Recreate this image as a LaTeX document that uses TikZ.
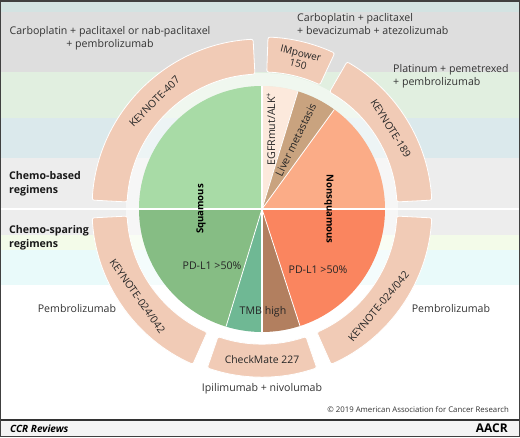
\documentclass[tikz,border=0pt]{standalone}
\usepackage{fontspec}
\setsansfont{Open Sans}
\definecolor{bandc}{HTML}{F1CBB6}
\definecolor{sqtop}{HTML}{A8DBA6}
\definecolor{sqlow}{HTML}{86BD84}
\definecolor{tmbg}{HTML}{6FB894}
\definecolor{tmbb}{HTML}{B27F5F}
\definecolor{egfr}{HTML}{FCE9DC}
\definecolor{liver}{HTML}{C9A37F}
\definecolor{nsqtop}{HTML}{FBAC87}
\definecolor{nsqlow}{HTML}{FA855F}
\definecolor{stripa}{HTML}{D3E3E2}
\definecolor{stripb}{HTML}{DEDEDE}
\definecolor{stripc}{HTML}{E1EFE0}
\definecolor{stripd}{HTML}{DBE9EC}
\definecolor{stripe}{HTML}{EDEDED}
\definecolor{stripf}{HTML}{F3FBE9}
\definecolor{stripg}{HTML}{E9FAFA}
\definecolor{footc}{HTML}{F4F4F4}
\begin{document}
\begin{tikzpicture}[x=1pt, y=1pt, font=\sffamily\fontsize{10.6}{13.5}\selectfont,
          band/.style={fill=bandc, draw=white, line width=0.8pt, rounded corners=2pt},
          bandlbl/.style={font=\sffamily\fontsize{10.4}{12}\selectfont, align=center, inner sep=0pt, text=black!85},
          txt/.style={align=center, inner sep=0pt, text=black!80},
          rowlbl/.style={font=\sffamily\bfseries\fontsize{10.6}{14}\selectfont, align=left, anchor=west, inner sep=0pt, text=black!90},
          slicelbl/.style={inner sep=0pt, text=black!85},
          boldlbl/.style={font=\sffamily\bfseries\fontsize{9.6}{11}\selectfont, inner sep=0pt}]
  \useasboundingbox (-262,-228) rectangle (258,209);
  % background stripes
  \fill[white] (-262,-228) rectangle (258,209);
  \fill[stripa] (-262,197) rectangle (258,209);
  \fill[stripb] (-262,137) rectangle (258,197);
  \fill[stripc] (-262,91) rectangle (258,137);
  \fill[stripd] (-262,51) rectangle (258,91);
  \fill[stripe] (-262,1) rectangle (258,51);
  \fill[stripe] (-262,-26) rectangle (258,-1);
  \fill[stripf] (-262,-41) rectangle (258,-26);
  \fill[stripg] (-262,-76) rectangle (258,-41);
  \draw[white, line width=1.2pt] (-262,0) -- (258,0);
  % pale ring round the pie
  \fill[white, opacity=0.5, even odd rule] (0,0) circle[radius=136] (0,0) circle[radius=123];
  % outer bands
  \path[band] (93:135) arc[start angle=93, end angle=177, radius=135] -- (177:170) arc[start angle=177, end angle=93, radius=170] -- cycle;
  \path[band] (65:137) arc[start angle=65, end angle=88, radius=137] -- (88:172) arc[start angle=88, end angle=65, radius=172] -- cycle;
  \path[band] (3:135) arc[start angle=3, end angle=60, radius=135] -- (60:170) arc[start angle=60, end angle=3, radius=170] -- cycle;
  \path[band] (183:135) arc[start angle=183, end angle=246, radius=135] -- (246:170) arc[start angle=246, end angle=183, radius=170] -- cycle;
  \path[band] (251:135) arc[start angle=251, end angle=289, radius=135] -- (289:168) arc[start angle=289, end angle=251, radius=168] -- cycle;
  \path[band] (294:135) arc[start angle=294, end angle=357, radius=135] -- (357:170) arc[start angle=357, end angle=294, radius=170] -- cycle;
  % pie
  \fill[sqtop] (0,0) -- (90:123) arc[start angle=90, end angle=180, radius=123] -- cycle;
  \fill[egfr] (0,0) -- (73:123) arc[start angle=73, end angle=90, radius=123] -- cycle;
  \fill[liver] (0,0) -- (54:123) arc[start angle=54, end angle=73, radius=123] -- cycle;
  \fill[nsqtop] (0,0) -- (0:123) arc[start angle=0, end angle=54, radius=123] -- cycle;
  \fill[sqlow] (0,0) -- (180:123) arc[start angle=180, end angle=253, radius=123] -- cycle;
  \fill[tmbg] (0,0) -- (253:123) arc[start angle=253, end angle=270, radius=123] -- cycle;
  \fill[tmbb] (0,0) -- (270:123) arc[start angle=270, end angle=288, radius=123] -- cycle;
  \fill[nsqlow] (0,0) -- (288:123) arc[start angle=288, end angle=360, radius=123] -- cycle;
  \draw[white, line width=0.8pt] (0,0) -- (73:123) (0,0) -- (54:123) (0,0) -- (253:123) (0,0) -- (288:123);
  \draw[white, line width=1.2pt] (-123,0) -- (123,0) (0,-123) -- (0,123);
  % pie labels
  \node[boldlbl, rotate=90] (sq) at (-61,0) {Squamous};
  \node[boldlbl, rotate=-90] (nsq) at (67,0) {Nonsquamous};
  \node[slicelbl, rotate=90] (egfrl) at (9,80) {EGFRmut/ALK\textsuperscript{+}};
  \node[slicelbl, rotate=64] (liverl) at (64:77) {Liver metastasis};
  \node[slicelbl] (pdl) at (-50,-57) {PD-L1 {>}50\%};
  \node[slicelbl] (pdr) at (56,-61) {PD-L1 {>}50\%};
  \node[slicelbl] (tmb) at (1,-103) {TMB high};
  % band labels
  \node[bandlbl, rotate=45] (kn407) at (135:152) {KEYNOTE-407};
  \node[bandlbl, rotate=-14, font=\sffamily\fontsize{10}{11}\selectfont] (imp) at (76:155) {IMpower\\150};
  \node[bandlbl, rotate=-58] (kn189) at (32:152) {KEYNOTE-189};
  \node[bandlbl, rotate=-55] (kn24l) at (215:152) {KEYNOTE-024/042};
  \node[bandlbl] (cm227) at (270:151) {CheckMate 227};
  \node[bandlbl, rotate=50] (kn24r) at (320:152) {KEYNOTE-024/042};
  % regimens
  \node[txt] (rg407) at (-152,171) {Carboplatin + paclitaxel or nab-paclitaxel\\+ pembrolizumab};
  \node[txt, align=left, anchor=west] (rgimp) at (35,185) {Carboplatin + paclitaxel\\+ bevacizumab + atezolizumab};
  \node[txt, align=left, anchor=west] (rg189) at (131,133) {Platinum + pemetrexed\\+ pembrolizumab};
  \node[txt] (rgpl) at (-185,-100) {Pembrolizumab};
  \node[txt] (rgpr) at (189,-100) {Pembrolizumab};
  \node[txt] (rgcm) at (0,-180) {Ipilimumab + nivolumab};
  \node[rowlbl] (based) at (-253,25) {Chemo-based\\regimens};
  \node[rowlbl] (sparing) at (-253,-29) {Chemo-sparing\\regimens};
  % footer
  \node[txt, anchor=east, font=\sffamily\fontsize{7.8}{9}\selectfont] (copy) at (247,-201) {\textcopyright\ 2019 American Association for Cancer Research};
  \fill[footc] (-262,-228) rectangle (258,-211);
  \draw[black!80, line width=1.6pt] (-262,-211) -- (258,-211);
  \node[anchor=west, inner sep=0pt, font=\sffamily\bfseries\itshape\fontsize{10}{11}\selectfont] (ccr) at (-252,-219.5) {CCR Reviews};
  \node[anchor=east, inner sep=0pt, font=\sffamily\bfseries\fontsize{12}{12}\selectfont] (aacr) at (246,-219.5) {AACR};
  \draw[black!75, line width=1.5pt] (-261.25,-227.25) rectangle (257.25,208.25);
\end{tikzpicture}
\end{document}
